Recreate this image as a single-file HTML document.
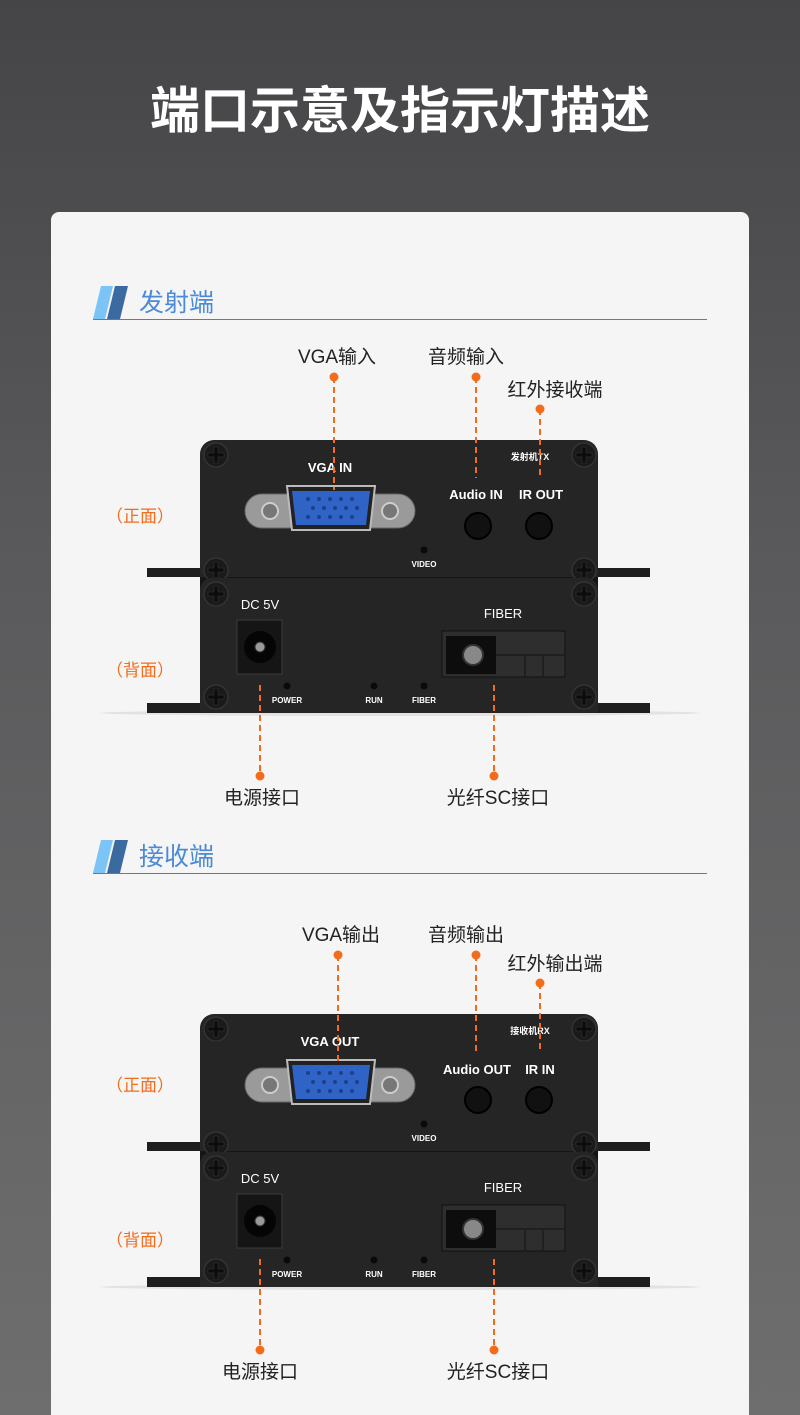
<!DOCTYPE html>
<html><head><meta charset="utf-8"><style>
html,body{margin:0;padding:0;width:800px;height:1415px;overflow:hidden}
body{background:linear-gradient(#454547,#5a5a5c 40%,#6e6e6e);}
svg{display:block}
text{font-family:"Liberation Sans","Noto Sans CJK SC",sans-serif}
</style></head><body>
<svg width="800" height="1415" viewBox="0 0 800 1415" xmlns="http://www.w3.org/2000/svg">
<defs>
<g id="screw">
<circle r="12" fill="#1a1a1a" stroke="#333" stroke-width="1.5"/>
<path d="M-2-8h4v6h6v4h-6v6h-4v-6h-6v-4h6z" fill="#0c0c0c" stroke="#2c2c2c" stroke-width="0.8"/>
</g>
<g id="dev">
<ellipse cx="400" cy="713" rx="300" ry="3" fill="#e2e2e2"/>
<rect x="200" y="565" width="398" height="25" fill="#151515"/>
<!-- front -->
<rect x="147" y="568" width="503" height="9" fill="#1e1e1e"/>
<path d="M200 577V454a14 14 0 0 1 14-14H584a14 14 0 0 1 14 14V577z" fill="#252525"/>
<use href="#screw" x="216" y="455"/><use href="#screw" x="584" y="455"/>
<use href="#screw" x="216" y="570"/><use href="#screw" x="584" y="570"/>
<path d="M262 494h136a10 10 0 0 1 0 34H262a10 10 0 0 1 0-34z" fill="#9a9a9a" stroke="#666"/>
<circle cx="270" cy="511" r="8" fill="#777" stroke="#ccc" stroke-width="2"/>
<circle cx="390" cy="511" r="8" fill="#777" stroke="#ccc" stroke-width="2"/>
<path d="M287 486h88l-5 44h-78z" fill="#222" stroke="#bbb" stroke-width="2"/>
<path d="M292 491h78l-4 34h-70z" fill="#2f63c6"/>
<g fill="#1d3f8a">
<circle cx="308" cy="499" r="2"/><circle cx="319" cy="499" r="2"/><circle cx="330" cy="499" r="2"/><circle cx="341" cy="499" r="2"/><circle cx="352" cy="499" r="2"/>
<circle cx="313" cy="508" r="2"/><circle cx="324" cy="508" r="2"/><circle cx="335" cy="508" r="2"/><circle cx="346" cy="508" r="2"/><circle cx="357" cy="508" r="2"/>
<circle cx="308" cy="517" r="2"/><circle cx="319" cy="517" r="2"/><circle cx="330" cy="517" r="2"/><circle cx="341" cy="517" r="2"/><circle cx="352" cy="517" r="2"/>
</g>
<circle cx="478" cy="526" r="13" fill="#111" stroke="#000" stroke-width="2"/>
<circle cx="539" cy="526" r="13" fill="#111" stroke="#000" stroke-width="2"/>
<circle cx="424" cy="550" r="3.5" fill="#0a0a0a"/>
<text x="424" y="567" font-size="8" font-weight="bold" fill="#fff" text-anchor="middle">VIDEO</text>
<!-- back -->
<rect x="147" y="703" width="503" height="10" fill="#1e1e1e"/>
<path d="M200 713V590a12 12 0 0 1 12-12H586a12 12 0 0 1 12 12V713z" fill="#252525"/>
<use href="#screw" x="216" y="594"/><use href="#screw" x="584" y="594"/>
<use href="#screw" x="216" y="697"/><use href="#screw" x="584" y="697"/>
<text x="260" y="609" font-size="13" fill="#fff" text-anchor="middle">DC 5V</text>
<rect x="237" y="620" width="45" height="54" fill="#151515" stroke="#3a3a3a"/>
<circle cx="260" cy="647" r="16" fill="#050505"/>
<circle cx="260" cy="647" r="5" fill="#999" stroke="#333"/>
<text x="503" y="618" font-size="13" fill="#fff" text-anchor="middle">FIBER</text>
<rect x="442" y="631" width="123" height="46" fill="#2e2e2e" stroke="#111"/>
<rect x="446" y="636" width="50" height="38" fill="#0d0d0d"/>
<circle cx="473" cy="655" r="10" fill="#888" stroke="#333" stroke-width="2"/>
<path d="M496 655h69M525 655v22M543 655v22" stroke="#1c1c1c" stroke-width="1.5"/>
<circle cx="287" cy="686" r="3.5" fill="#0a0a0a"/><circle cx="374" cy="686" r="3.5" fill="#0a0a0a"/><circle cx="424" cy="686" r="3.5" fill="#0a0a0a"/>
<g font-size="8" font-weight="bold" fill="#fff" text-anchor="middle">
<text x="287" y="703">POWER</text><text x="374" y="703">RUN</text><text x="424" y="703">FIBER</text></g>
</g>
</defs>
<rect x="51" y="212" width="698" height="1220" rx="8" fill="#f5f5f5"/>
<text x="400" y="128" font-size="50" font-weight="bold" fill="#fff" text-anchor="middle">端口示意及指示灯描述</text>

<path d="M101 286h12l-8 33H93z" fill="#7cc4f5"/><path d="M115 286h13l-8 33h-13z" fill="#3b6aa0"/>
<line x1="93" y1="319.5" x2="707" y2="319.5" stroke="#4a7fc0" stroke-width="1"/>
<text x="139" y="311" font-size="25" fill="#4a8ad6">发射端</text>
<path d="M101 840h12l-8 33H93z" fill="#7cc4f5"/><path d="M115 840h13l-8 33h-13z" fill="#3b6aa0"/>
<line x1="93" y1="873.5" x2="707" y2="873.5" stroke="#4a7fc0" stroke-width="1"/>
<text x="139" y="865" font-size="25" fill="#4a8ad6">接收端</text>

<use href="#dev"/>
<use href="#dev" y="574"/>
<text x="330" y="472" font-size="13" font-weight="bold" fill="#fff" text-anchor="middle">VGA IN</text>
<text x="476" y="499" font-size="13" font-weight="bold" fill="#fff" text-anchor="middle">Audio IN</text>
<text x="541" y="499" font-size="13" font-weight="bold" fill="#fff" text-anchor="middle">IR OUT</text>
<text x="530" y="460" font-size="9" font-weight="bold" fill="#fff" text-anchor="middle">发射机TX</text>
<text x="330" y="1046" font-size="13" font-weight="bold" fill="#fff" text-anchor="middle">VGA OUT</text>
<text x="477" y="1074" font-size="13" font-weight="bold" fill="#fff" text-anchor="middle">Audio OUT</text>
<text x="540" y="1074" font-size="13" font-weight="bold" fill="#fff" text-anchor="middle">IR IN</text>
<text x="530" y="1034" font-size="9" font-weight="bold" fill="#fff" text-anchor="middle">接收机RX</text>

<g stroke="#f26c1c" stroke-width="2" stroke-dasharray="6,4" fill="none">
<path d="M334 377V490M476 377V478M540 409V478M260 685V776M494 685V776"/>
<path d="M338 955V1064M476 955V1052M540 983V1052M260 1259V1350M494 1259V1350"/>
</g>
<g fill="#f26c1c">
<circle cx="334" cy="377" r="4.5"/><circle cx="476" cy="377" r="4.5"/><circle cx="540" cy="409" r="4.5"/><circle cx="260" cy="776" r="4.5"/><circle cx="494" cy="776" r="4.5"/>
<circle cx="338" cy="955" r="4.5"/><circle cx="476" cy="955" r="4.5"/><circle cx="540" cy="983" r="4.5"/><circle cx="260" cy="1350" r="4.5"/><circle cx="494" cy="1350" r="4.5"/>
</g>
<g font-size="19" fill="#222" text-anchor="middle">
<text x="337" y="363">VGA输入</text><text x="466" y="363">音频输入</text><text x="555" y="396">红外接收端</text>
<text x="262" y="804">电源接口</text><text x="498" y="804">光纤SC接口</text>
<text x="341" y="941">VGA输出</text><text x="466" y="941">音频输出</text><text x="555" y="970">红外输出端</text>
<text x="260" y="1378">电源接口</text><text x="498" y="1378">光纤SC接口</text>
</g>
<g font-size="17" fill="#f26c1c" text-anchor="middle">
<text x="140" y="522">（正面）</text><text x="140" y="676">（背面）</text>
<text x="140" y="1091">（正面）</text><text x="140" y="1246">（背面）</text>
</g>
</svg>
</body></html>
